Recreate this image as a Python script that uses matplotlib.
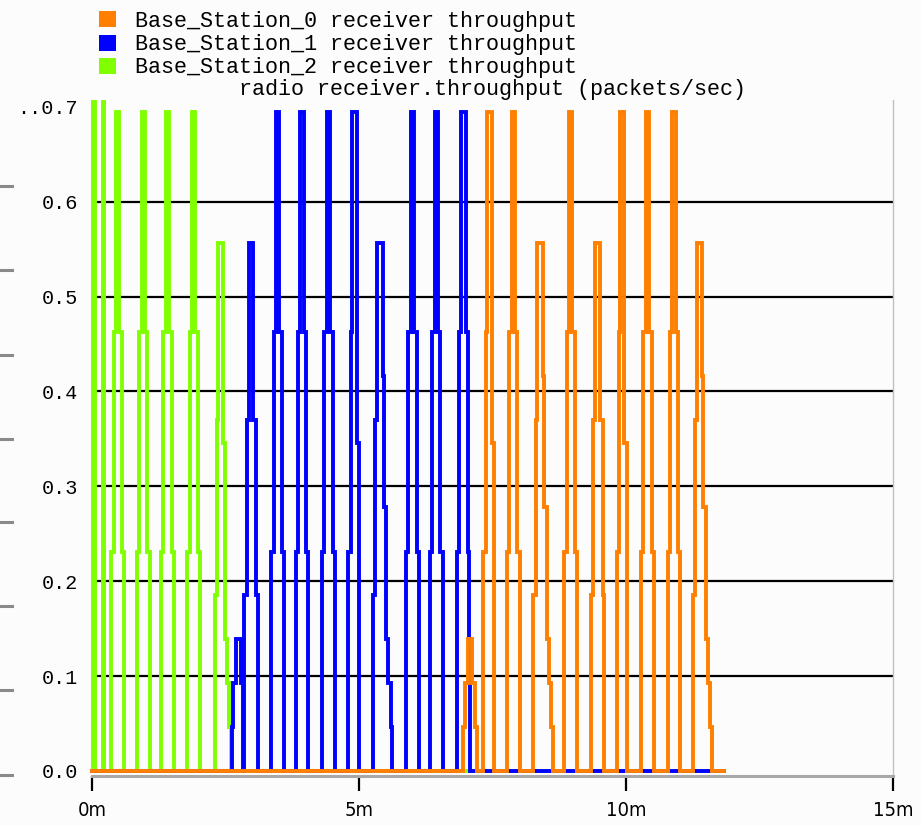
import matplotlib
matplotlib.use("Agg")
import matplotlib.pyplot as plt
from matplotlib.patches import Patch
from matplotlib.lines import Line2D

# ---------------- data (time in minutes, throughput in packets/sec) ----------------
series_names = ["Base_Station_0 receiver throughput",
                "Base_Station_1 receiver throughput",
                "Base_Station_2 receiver throughput"]
series_colors = ["#FF8000", "#0000FF", "#80FF00"]

green_t = [0.0, 0.028, 0.056, 0.197, 0.225,
           0.363, 0.403, 0.451, 0.511, 0.560, 0.599,
           0.843, 0.882, 0.931, 0.991, 1.039, 1.079,
           1.292, 1.331, 1.380, 1.440, 1.489, 1.528,
           1.787, 1.826, 1.875, 1.934, 1.983, 2.022,
           2.303, 2.335, 2.365, 2.459, 2.491, 2.522, 2.560, 2.597,
           11.84]
green_v = [0.0, 0.705, 0.0, 0.705, 0.0,
           0.231, 0.463, 0.694, 0.463, 0.231, 0.0,
           0.231, 0.463, 0.694, 0.463, 0.231, 0.0,
           0.231, 0.463, 0.694, 0.463, 0.231, 0.0,
           0.231, 0.463, 0.694, 0.463, 0.231, 0.0,
           0.185, 0.370, 0.556, 0.346, 0.139, 0.093, 0.046, 0.0,
           0.0]

blue_t = [0.0,
          2.616, 2.646, 2.697, 2.785, 2.822,
          2.846, 2.897, 2.940, 3.021, 3.066, 3.103,
          3.360, 3.399, 3.448, 3.507, 3.556, 3.596,
          3.815, 3.854, 3.903, 3.963, 4.011, 4.051,
          4.307, 4.346, 4.395, 4.455, 4.504, 4.543,
          4.800, 4.845, 4.878, 4.957, 5.006,
          5.268, 5.300, 5.332, 5.444, 5.459, 5.500, 5.549, 5.599, 5.627,
          5.880, 5.919, 5.968, 6.028, 6.077, 6.116,
          6.330, 6.369, 6.418, 6.478, 6.526, 6.566,
          6.830, 6.873, 6.901, 7.004, 7.036, 7.060, 7.088,
          11.84]
blue_v = [0.0,
          0.046, 0.093, 0.139, 0.093, 0.0,
          0.185, 0.370, 0.556, 0.370, 0.185, 0.0,
          0.231, 0.463, 0.694, 0.463, 0.231, 0.0,
          0.231, 0.463, 0.694, 0.463, 0.231, 0.0,
          0.231, 0.463, 0.694, 0.463, 0.231, 0.0,
          0.231, 0.463, 0.694, 0.346, 0.0,
          0.185, 0.370, 0.556, 0.416, 0.278, 0.139, 0.093, 0.046, 0.0,
          0.231, 0.463, 0.694, 0.463, 0.231, 0.0,
          0.231, 0.463, 0.694, 0.463, 0.231, 0.0,
          0.231, 0.463, 0.694, 0.463, 0.231, 0.139, 0.0,
          0.0]

orange_t = [0.0,
            6.953, 6.985, 7.032, 7.107, 7.172, 7.204,
            7.328, 7.373, 7.397, 7.496, 7.528,
            7.772, 7.811, 7.860, 7.919, 7.968, 8.007,
            8.264, 8.309, 8.339, 8.440, 8.470, 8.515, 8.558, 8.596, 8.639,
            8.846, 8.886, 8.934, 8.994, 9.043, 9.082,
            9.345, 9.388, 9.419, 9.513, 9.560, 9.597,
            9.837, 9.875, 9.897, 9.968, 10.024,
            10.281, 10.320, 10.369, 10.429, 10.478, 10.517,
            10.781, 10.820, 10.869, 10.929, 10.978, 11.017,
            11.249, 11.292, 11.324, 11.418, 11.448, 11.493, 11.530, 11.573, 11.610,
            11.84]
orange_v = [0.0,
            0.046, 0.093, 0.139, 0.093, 0.046, 0.0,
            0.231, 0.463, 0.694, 0.346, 0.0,
            0.231, 0.463, 0.694, 0.463, 0.231, 0.0,
            0.185, 0.370, 0.556, 0.416, 0.278, 0.139, 0.093, 0.046, 0.0,
            0.231, 0.463, 0.694, 0.463, 0.231, 0.0,
            0.185, 0.370, 0.556, 0.370, 0.185, 0.0,
            0.231, 0.463, 0.694, 0.346, 0.0,
            0.231, 0.463, 0.694, 0.463, 0.231, 0.0,
            0.231, 0.463, 0.694, 0.463, 0.231, 0.0,
            0.185, 0.370, 0.556, 0.416, 0.278, 0.139, 0.093, 0.046, 0.0,
            0.0]

y_ticks = [0.0, 0.1, 0.2, 0.3, 0.4, 0.5, 0.6, 0.7]
y_tick_labels = ["0.0", "0.1", "0.2", "0.3", "0.4", "0.5", "0.6", "..0.7"]
grid_levels = [0.1, 0.2, 0.3, 0.4, 0.5, 0.6]
x_ticks = [0, 5, 10, 15]
x_tick_labels = ["0m", "5m", "10m", "15m"]
title = "radio receiver.throughput (packets/sec)"

# ---------------- figure ----------------
W, H = 921, 825
fig = plt.figure(figsize=(W / 100, H / 100), dpi=100, facecolor="#fcfcfc")
ax = fig.add_axes([92 / W, 1 - 776 / H, (893 - 92) / W, (776 - 100) / H])
ax.set_facecolor("#fcfcfc")

mono = ["Liberation Mono", "DejaVu Sans Mono"]

ax.hlines(grid_levels, 0.075, 15, colors="black", linewidth=1.6, zorder=1)

lw = 2.8
ax.plot(green_t, green_v, drawstyle="steps-post", color=series_colors[2],
        linewidth=lw, solid_joinstyle="miter", zorder=2, clip_on=False)
ax.plot(blue_t, blue_v, drawstyle="steps-post", color=series_colors[1],
        linewidth=lw, solid_joinstyle="miter", zorder=3, clip_on=False)
ax.plot(orange_t, orange_v, drawstyle="steps-post", color=series_colors[0],
        linewidth=lw, solid_joinstyle="miter", zorder=4, clip_on=False)

ax.set_xlim(0, 15)
ax.set_ylim(-0.0053, 0.7071)

for s in ["top", "left"]:
    ax.spines[s].set_visible(False)
ax.spines["bottom"].set_color("#a8a8a8")
ax.spines["bottom"].set_linewidth(2.2)
ax.spines["right"].set_color("#c0c0c0")
ax.spines["right"].set_linewidth(1.0)

ax.set_yticks(y_ticks)
ax.set_yticklabels(y_tick_labels, fontfamily=mono, fontsize=14.5)
ax.tick_params(axis="y", length=0, pad=10)

ax.set_xticks(x_ticks)
ax.set_xticklabels(x_tick_labels, fontfamily=["DejaVu Sans"], fontsize=14.5,
                   fontstretch="condensed")
ax.tick_params(axis="x", direction="out", length=11, width=1.6, color="black", pad=7)

ax.set_title(title, fontfamily=mono, fontsize=15.7, pad=3)

handles = [Patch(facecolor=c, edgecolor="none") for c in series_colors]
fig.legend(handles, series_names, loc="upper left",
           bbox_to_anchor=(99 / W, 1 - 11 / H), frameon=False,
           prop={"family": mono, "size": 15.7},
           handlelength=0.8, handleheight=0.75, handletextpad=0.85,
           labelspacing=0.1, borderpad=0, borderaxespad=0)

# stray gray marks at the far left edge of the picture
for yy in [186, 270, 355, 439, 522, 606, 690, 775]:
    fig.add_artist(Line2D([0, 12 / W], [1 - yy / H, 1 - yy / H],
                          color="#8a8a8a", linewidth=2.2, transform=fig.transFigure))

fig.savefig("out.png", dpi=100, facecolor=fig.get_facecolor())
